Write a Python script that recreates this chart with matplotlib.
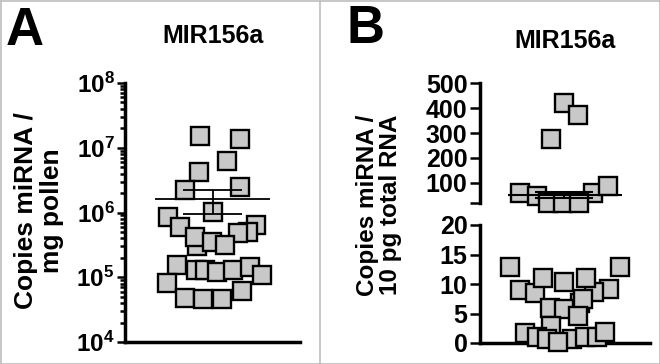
import numpy as np
import matplotlib
matplotlib.use('Agg')
import matplotlib.pyplot as plt
from matplotlib.ticker import LogLocator, NullFormatter
from matplotlib.lines import Line2D

plt.rcParams['font.family'] = ['Liberation Sans', 'DejaVu Sans']
plt.rcParams['font.weight'] = 'bold'
plt.rcParams['mathtext.fontset'] = 'custom'
plt.rcParams['mathtext.rm'] = 'Liberation Sans:bold'
plt.rcParams['mathtext.bf'] = 'Liberation Sans:bold'
plt.rcParams['mathtext.it'] = 'Liberation Sans:bold'

# panel A: copies per mg pollen (x = jitter offset from axis, px)
a_x = [75, 115, 102, 74, 60, 115, 43, 131, 55, 123, 113, 72, 70, 87, 100, 88,
       52, 71, 80, 92, 108, 125, 137, 42, 60, 78, 97, 117]
a_y = [1.5e7, 1.35e7, 6.3e6, 4.2e6, 2.2e6, 2.45e6, 8.6e5, 6.4e5, 6.0e5, 5.0e5, 4.8e5, 3.0e5, 4.2e5, 3.5e5, 3.2e5, 1.03e6,
       1.55e5, 1.3e5, 1.3e5, 1.2e5, 1.3e5, 1.45e5, 1.07e5, 8.1e4, 4.8e4, 4.6e4, 4.6e4, 6.1e4]
a_mean, a_sem = 1.6e6, 0.64e6
a_ticks = [1e4, 1e5, 1e6, 1e7, 1e8]
a_ticklabels = [r'$10^{4}$', r'$10^{5}$', r'$10^{6}$', r'$10^{7}$', r'$10^{8}$']

# panel B: copies per 10 pg total RNA, split axis
b_hi_x = [40, 57, 113, 128, 68, 83, 99, 71, 84, 98]
b_hi_y = [60, 47, 60, 87, 20, 20, 20, 275, 420, 372]
b_lo_x = [30, 140, 40, 55, 129, 114, 63, 106, 84, 70, 100, 103, 84, 98, 71,
          45, 57, 67, 92, 105, 117, 125, 78]
b_lo_y = [12.9, 12.9, 9.0, 8.5, 9.2, 8.7, 11.0, 11.0, 10.4, 5.9, 6.8, 7.5, 5.8, 4.5, 2.8,
          1.7, 1.1, 0.7, 0.6, 1.0, 1.1, 1.9, 0.2]
b_mean, b_sem = 52, 13
b_hi_ticks = [20, 100, 200, 300, 400, 500]
b_hi_ticklabels = ['', '100', '200', '300', '400', '500']
b_lo_ticks = [0, 5, 10, 15, 20]

W, H = 660, 364
fig = plt.figure(figsize=(6.6, 3.64), dpi=100)

def box(x0, y0, x1, y1):
    # pixel box (top-left origin) -> figure fraction
    return [x0 / W, 1 - y1 / H, (x1 - x0) / W, (y1 - y0) / H]

sq = dict(marker='s', ls='none', mfc='#c8c8c8', mec='black', mew=1.7, clip_on=False, zorder=3)

def style(ax, size, major):
    for s in ['top', 'right']:
        ax.spines[s].set_visible(False)
    for s in ['left', 'bottom']:
        ax.spines[s].set_linewidth(2.5)
    ax.tick_params(axis='y', which='major', length=major, width=1.8, labelsize=size, pad=2)
    ax.tick_params(axis='x', bottom=False, labelbottom=False)

# ---- A
axA = fig.add_axes(box(125, 83, 300, 342))
axA.set_yscale('log')
axA.plot(a_x, a_y, ms=13.5, **sq)
axA.set_xlim(0, 175)
axA.set_ylim(1e4, 1e8)
axA.set_yticks(a_ticks)
axA.set_yticklabels(a_ticklabels)
axA.yaxis.set_minor_locator(LogLocator(base=10, subs=np.arange(2, 10)))
axA.yaxis.set_minor_formatter(NullFormatter())
style(axA, 17.5, 5.5)
axA.tick_params(axis='y', which='minor', length=3.5, width=1.8)
axA.hlines(a_mean, 30, 145, color='black', lw=1.3, zorder=4)
axA.hlines([a_mean - a_sem, a_mean + a_sem], 58, 117, color='black', lw=1.3, zorder=4)
axA.vlines(88, a_mean - a_sem, a_mean + a_sem, color='black', lw=1.3, zorder=4)

# ---- B upper
axB1 = fig.add_axes(box(480, 83.3, 650, 202.7))
axB1.plot(b_hi_x, b_hi_y, ms=12.5, **sq)
axB1.set_xlim(0, 170)
axB1.set_ylim(20, 500)
axB1.set_yticks(b_hi_ticks)
axB1.set_yticklabels(b_hi_ticklabels)
style(axB1, 18, 7)
axB1.spines['bottom'].set_visible(False)
axB1.hlines(b_mean, 28, 142, color='black', lw=1.5, zorder=4)
axB1.hlines([b_mean - b_sem, b_mean + b_sem], 55, 113, color='black', lw=1.5, zorder=4)
axB1.vlines(84, b_mean - b_sem, b_mean + b_sem, color='black', lw=1.5, zorder=4)

# ---- B lower
axB2 = fig.add_axes(box(480, 225, 650, 343))
axB2.plot(b_lo_x, b_lo_y, ms=12.5, **sq)
axB2.set_xlim(0, 170)
axB2.set_ylim(0, 20)
axB2.set_yticks(b_lo_ticks)
style(axB2, 18, 7)

# titles, panel letters, y labels
fig.text(213 / W, 1 - 36 / H, 'MIR156a', ha='center', va='center', fontsize=18, fontweight='bold')
fig.text(565 / W, 1 - 41 / H, 'MIR156a', ha='center', va='center', fontsize=18, fontweight='bold')
fig.text(6 / W, 1 - 45 / H, 'A', ha='left', va='baseline', fontsize=38, fontweight='bold')
fig.text(347 / W, 1 - 43 / H, 'B', ha='left', va='baseline', fontsize=38, fontweight='bold')
fig.text(39 / W, 1 - 211 / H, 'Copies miRNA /\nmg pollen', rotation=90, ha='center', va='center',
         multialignment='center', fontsize=19, fontweight='bold', linespacing=1.15)
fig.text(379 / W, 1 - 205 / H, 'Copies miRNA /\n10 pg total RNA', rotation=90, ha='center', va='center',
         multialignment='center', fontsize=17.5, fontweight='bold', linespacing=1.05)

# grey frame and divider
for xs, ys in [([0.5, W - 0.5], [0.5, 0.5]), ([0.5, W - 0.5], [H - 0.5, H - 0.5]),
               ([0.5, 0.5], [0, H]), ([W - 0.5, W - 0.5], [0, H]), ([320, 320], [0, H])]:
    fig.add_artist(Line2D([x / W for x in xs], [1 - y / H for y in ys], color='#bdbdbd', lw=1.2))

fig.savefig('out.png', dpi=100)
